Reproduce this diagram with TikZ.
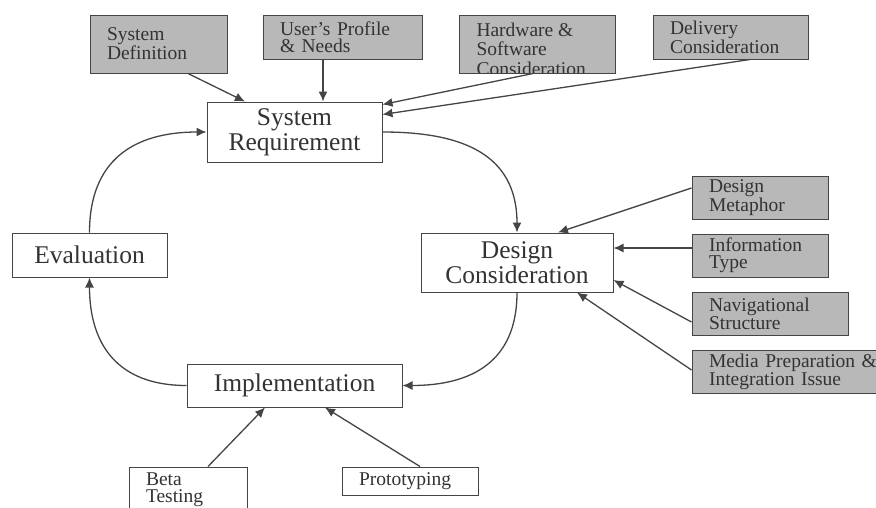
\documentclass[tikz,border=0pt]{standalone}
\usepackage{fontspec}
\setmainfont{Liberation Serif}
\usetikzlibrary{arrows.meta,calc}
\definecolor{boxgray}{HTML}{B8B8B8}
\definecolor{linegray}{HTML}{454545}
\definecolor{textgray}{HTML}{333333}
\begin{document}
\begin{tikzpicture}[x=1pt,y=1pt,
  mainbox/.style={draw=linegray, line width=1pt, fill=white, text=textgray, align=center,
    font=\fontsize{25.5}{25}\selectfont, inner sep=0pt},
  graybox/.style={draw=linegray, line width=1pt, fill=boxgray, text=textgray, align=left,
    font=\fontsize{19.5}{17}\selectfont, inner xsep=17pt, inner ysep=0pt},
  whitebox/.style={draw=linegray, line width=1pt, fill=white, text=textgray, align=left,
    font=\fontsize{19.5}{17}\selectfont, inner xsep=17pt, inner ysep=0pt},
  conn/.style={draw=linegray, line width=1.3pt, -{Latex[length=10pt,width=9pt]}},
]
\useasboundingbox[fill=white] (0,0) rectangle (876,-507);

% main cycle nodes
\node[mainbox, minimum width=175, minimum height=60] (sr) at (294.5,-132) {System\\Requirement};
\node[mainbox, minimum width=192, minimum height=59] (dc) at (517,-262.5) {Design\\Consideration};
\node[mainbox, minimum width=215, minimum height=43] (impl) at (294.5,-385.5) {Implementation};
\node[mainbox, minimum width=155, minimum height=44] (eval) at (89.5,-255) {Evaluation};

% top gray boxes
\node[graybox, minimum width=137, minimum height=58, text width=103] (sd) at (158.5,-44) {System\\Definition};
\node[graybox, minimum width=159, minimum height=44, text width=125] (up) at (342.5,-37) {User's Profile\\\& Needs};
\node[draw=linegray, line width=1pt, fill=boxgray, minimum width=156, minimum height=58, inner sep=0pt,
  path picture={\node[text=textgray, align=left, font=\fontsize{19.5}{19.5}\selectfont, inner sep=0pt,
      minimum width=0pt, minimum height=0pt, anchor=north west]
    (hwtext) at ([xshift=17,yshift=-7]path picture bounding box.north west) {Hardware \&\\Software\\Consideration};}]
  (hw) at (537,-44) {};
\node[graybox, minimum width=155, minimum height=44, text width=121] (dl) at (730.5,-37) {Delivery\\Consideration};

% right gray boxes
\node[graybox, minimum width=136, minimum height=43, text width=102] (dm) at (760,-197.5) {Design\\Metaphor};
\node[graybox, minimum width=136, minimum height=43, text width=102] (it) at (760,-255.5) {Information\\Type};
\node[graybox, minimum width=156, minimum height=43, text width=122] (ns) at (770,-313.5) {Navigational\\Structure};
\node[graybox, minimum width=210, minimum height=43, text width=176] (mp) at (797,-371.5) {Media Preparation \&\\Integration Issue};

% bottom white boxes
\node[whitebox, minimum width=118, minimum height=46, text width=84] (beta) at (188,-490) {Beta\\Testing};
\node[whitebox, minimum width=136, minimum height=28, text width=102] (proto) at (410,-481) {Prototyping};

% cycle
\draw[conn] (sr.east) to[out=0,in=90,looseness=1.2] (dc.north);
\draw[conn] (dc.south) to[out=-90,in=0,looseness=1.2] (impl.east);
\draw[conn] (impl.west) to[out=180,in=-90,looseness=1.2] (eval.south);
\draw[conn] (eval.north) to[out=90,in=180,looseness=1.2] (sr.west);

% inputs to system requirement
\draw[conn] ([xshift=29.5]sd.south) -- ([xshift=-49.5]sr.north);
\draw[conn] ([xshift=-19.5]up.south) -- ([xshift=-19.5]up.south |- sr.north);
\draw[conn] ([xshift=-4]hw.south) -- ([yshift=-3]sr.north east);
\draw[conn] ([xshift=19.5]dl.south) -- ([yshift=-13]sr.north east);

% inputs to design consideration
\draw[conn] ([yshift=9.5]dm.west) -- ([xshift=41]dc.north);
\draw[conn] ([yshift=7.5]it.west) -- ([yshift=7.5]it.west -| dc.east);
\draw[conn] ([yshift=-8.5]ns.west) -- ([yshift=-17.5]dc.east);
\draw[conn] ([yshift=1.5]mp.west) -- ([xshift=60]dc.south);

% inputs to implementation
\draw[conn] ([xshift=20]beta.north) -- ([xshift=-29.5]impl.south);
\draw[conn] ([xshift=10]proto.north) -- ([xshift=30.5]impl.south);
\end{tikzpicture}
\end{document}
